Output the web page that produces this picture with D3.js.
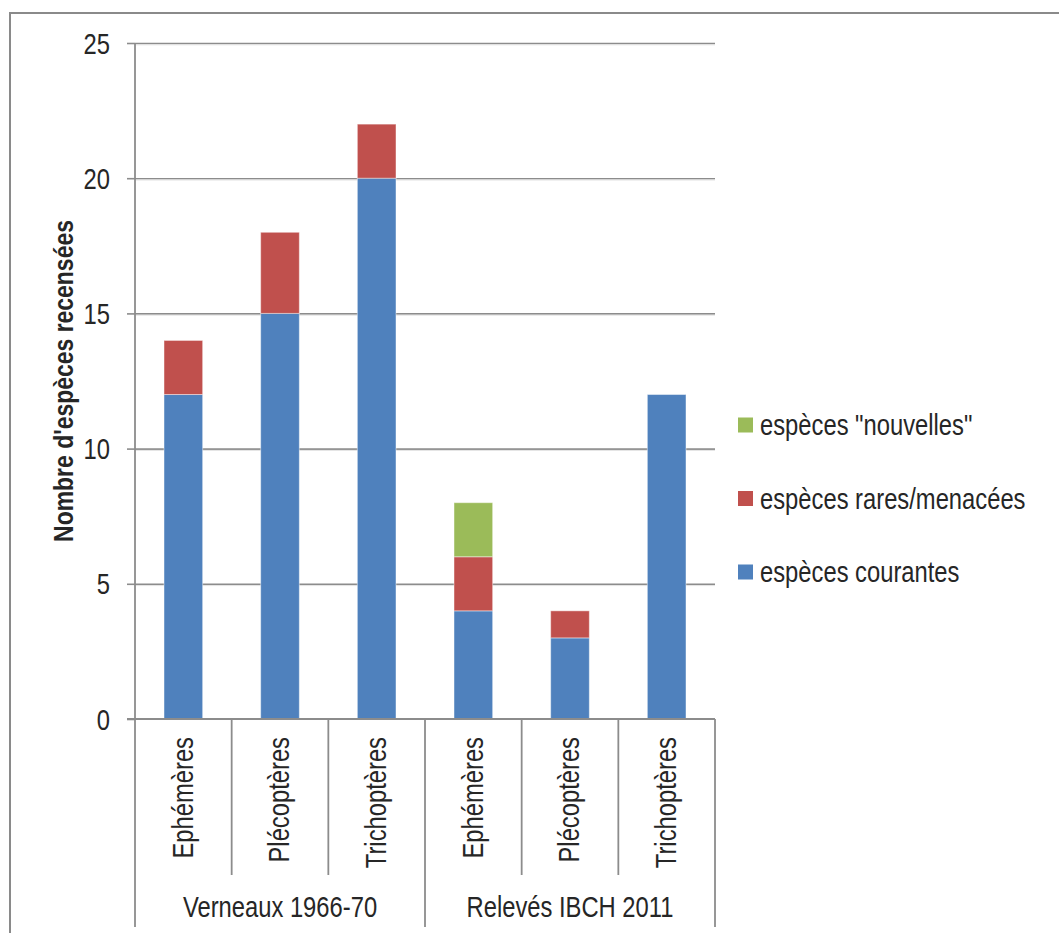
<!DOCTYPE html>
<html>
<head>
<meta charset="utf-8">
<script src="https://cdn.jsdelivr.net/npm/d3@7"></script>
<style>
  html, body { margin: 0; padding: 0; background: #fff; }
  svg { display: block; }
  text { font-family: "Liberation Sans", Arial, sans-serif; fill: #262626; }
</style>
</head>
<body>
<svg id="chart" width="1059" height="933"></svg>
<script>
// ---- data ----
const categories = ["Ephémères", "Plécoptères", "Trichoptères", "Ephémères", "Plécoptères", "Trichoptères"];
const groups = ["Verneaux 1966-70", "Relevés IBCH 2011"];
const courantes = [12, 15, 20, 4, 3, 12];
const rares = [2, 3, 2, 2, 1, 0];
const nouvelles = [0, 0, 0, 2, 0, 0];
const seriesKeys = ["courantes", "rares", "nouvelles"];
const seriesNames = ["espèces courantes", "espèces rares/menacées", "espèces \"nouvelles\""];
const seriesColors = ["#4F81BD", "#C0504D", "#9BBB59"];
const yTicks = [0, 5, 10, 15, 20, 25];
const yTitle = "Nombre d'espèces recensées";

// ---- layout ----
const svg = d3.select("#chart");
const X0 = 135, X1 = 715, Y0 = 719, Y1 = 43;
const SX = 0.82; // horizontal compression to mimic a narrow face
const FS = 29;

const rows = categories.map((c, i) => ({
  idx: i, courantes: courantes[i], rares: rares[i], nouvelles: nouvelles[i]
}));

const x = d3.scaleBand().domain(d3.range(categories.length)).range([X0, X1])
  .paddingInner(0.6).paddingOuter(0.3);
const cell = d3.scaleBand().domain(d3.range(categories.length)).range([X0, X1]).padding(0);
const y = d3.scaleLinear().domain([0, 25]).range([Y0, Y1]);

function addText(parent, px, py, str, opt = {}) {
  const g = parent.append("g")
    .attr("transform", `translate(${px},${py}) rotate(${opt.rotate || 0}) scale(${SX},1)`);
  return g.append("text")
    .attr("text-anchor", opt.anchor || "start")
    .attr("dy", opt.dy || "0.35em")
    .style("font-size", (opt.size || FS) + "px")
    .style("font-weight", opt.weight || "normal")
    .text(str);
}

// outer frame
svg.append("rect").attr("x", 10).attr("y", 13).attr("width", 1200).attr("height", 1200)
  .attr("fill", "none").attr("stroke", "#8a8a8a").attr("stroke-width", 2);

// gridlines
const grid = svg.append("g").attr("transform", `translate(${X0},0)`)
  .call(d3.axisLeft(y).tickValues(yTicks.filter(v => v > 0)).tickSize(-(X1 - X0)).tickFormat(""));
grid.select(".domain").remove();
grid.selectAll(".tick line").attr("stroke", "#8c8c8c").attr("stroke-width", 1.6);
// soft shadow under gridlines
svg.append("g").selectAll("line").data(yTicks.filter(v => v > 0)).join("line")
  .attr("x1", X0).attr("x2", X1).attr("y1", d => y(d) + 1.8).attr("y2", d => y(d) + 1.8)
  .attr("stroke", "#e2e2e2").attr("stroke-width", 1);

// bars
const stack = d3.stack().keys(seriesKeys);
const stacked = stack(rows);
svg.append("g").selectAll("g").data(stacked).join("g")
  .attr("fill", (d, i) => seriesColors[i])
  .selectAll("rect").data(d => d.filter(s => s[1] - s[0] > 0)).join("rect")
  .attr("x", d => x(d.data.idx))
  .attr("width", x.bandwidth())
  .attr("y", d => y(d[1]))
  .attr("height", d => y(d[0]) - y(d[1]))
  .attr("stroke", "rgba(255,255,255,0.45)")
  .attr("stroke-width", 1);

// y axis
const yAxis = svg.append("g").attr("transform", `translate(${X0},0)`)
  .call(d3.axisLeft(y).tickValues(yTicks).tickSize(8).tickPadding(17).tickFormat(d3.format("d")));
yAxis.select(".domain").remove();
yAxis.selectAll(".tick line").attr("stroke", "#8c8c8c").attr("stroke-width", 1.6);
yAxis.selectAll(".tick text")
  .attr("x", -25 / SX)
  .attr("dy", "0.35em")
  .attr("transform", `scale(${SX},1)`)
  .style("font-size", FS + "px")
  .style("font-family", "Liberation Sans, Arial, sans-serif")
  .attr("fill", "#262626");

// axis lines
svg.append("line").attr("x1", X0).attr("x2", X0).attr("y1", Y1).attr("y2", 927)
  .attr("stroke", "#8c8c8c").attr("stroke-width", 1.8);
svg.append("line").attr("x1", 127).attr("x2", X1).attr("y1", Y0).attr("y2", Y0)
  .attr("stroke", "#8c8c8c").attr("stroke-width", 1.8);

// category separators
const bounds = d3.range(categories.length + 1);
svg.append("g").selectAll("line").data(bounds.slice(1)).join("line")
  .attr("x1", i => X0 + i * cell.step()).attr("x2", i => X0 + i * cell.step())
  .attr("y1", Y0).attr("y2", i => (i % 3 === 0 ? 927 : 875))
  .attr("stroke", "#8c8c8c").attr("stroke-width", 1.8);

// category labels
const catG = svg.append("g");
categories.forEach((c, i) => {
  addText(catG, cell(i) + cell.bandwidth() / 2 - 1, 737, c, { rotate: -90, anchor: "end" });
});

// group labels
const grpG = svg.append("g");
groups.forEach((gname, gi) => {
  const cx = X0 + (gi * 3 + 1.5) * cell.step();
  addText(grpG, cx, 917, gname, { anchor: "middle", dy: "0" });
});

// y title
addText(svg, 73, (Y0 + Y1) / 2, yTitle, { rotate: -90, anchor: "middle", dy: "0", weight: "bold", size: 28 });

// legend
const legendOrder = [2, 1, 0];
const leg = svg.append("g");
legendOrder.forEach((si, k) => {
  const cy = 425 + k * 73.5;
  leg.append("rect").attr("x", 738).attr("y", cy - 7.5).attr("width", 15).attr("height", 15)
    .attr("fill", seriesColors[si]);
  addText(leg, 760, cy, seriesNames[si], { anchor: "start" });
});
</script>
</body>
</html>
